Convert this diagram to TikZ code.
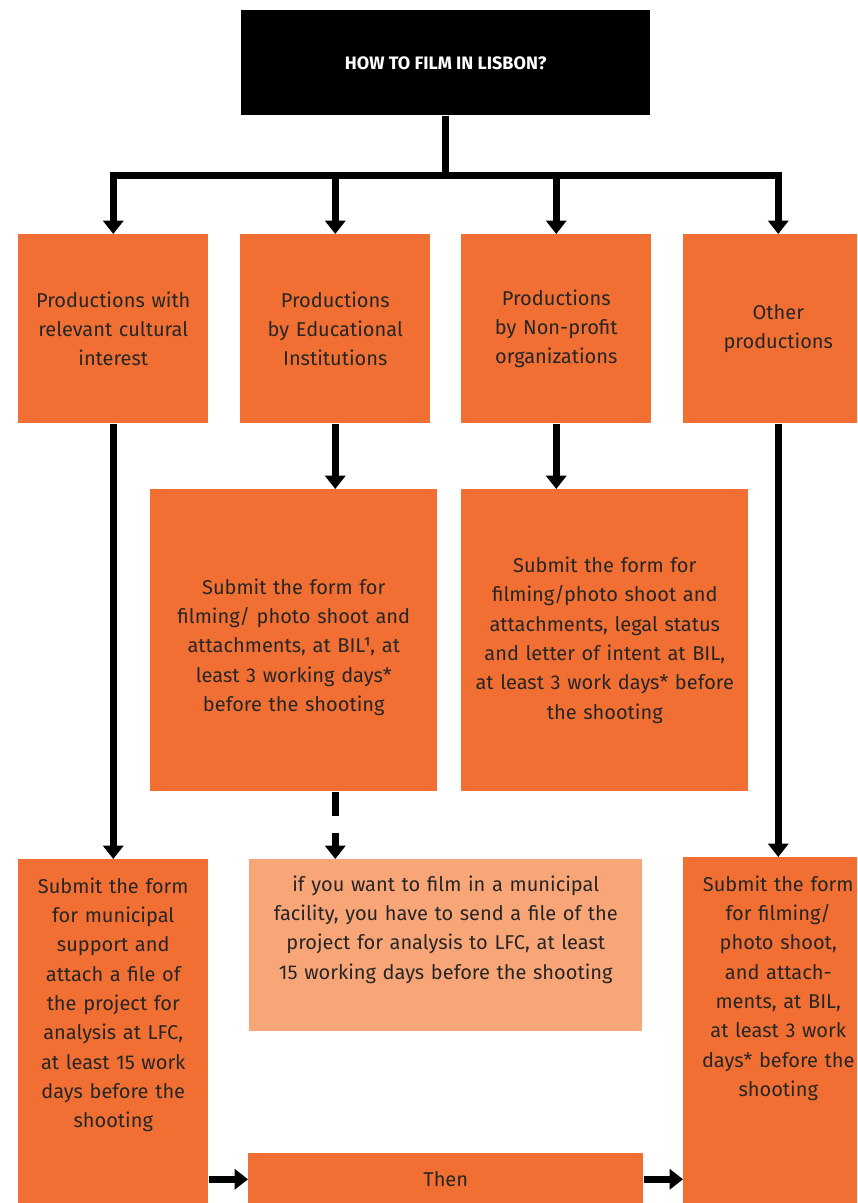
\documentclass[tikz,border=0pt]{standalone}
\usepackage{fontspec}
\setmainfont{Fira Sans}
\usetikzlibrary{arrows.meta}
\definecolor{lfcorange}{HTML}{F26F33}
\definecolor{lfclight}{HTML}{F8A678}

\begin{document}
\begin{tikzpicture}[x=0.75pt,y=-0.75pt,
    box/.style={fill=lfcorange,text=black!85,inner sep=0pt,align=center,
                font=\fontsize{15}{22}\selectfont,anchor=north west},
    topbox/.style={box,text width=142.5pt,text height=25.5pt},
    arr/.style={line width=5.25pt,-{Triangle[width=15pt,length=10pt]}}]
		\useasboundingbox (0,0) rectangle (857,1203);
		\clip (0,0) rectangle (857,1203);

		% question
		\node[fill=black,text=white,anchor=north west,minimum width=306.75pt,
		      minimum height=78.75pt,font=\fontsize{13.5}{16}\selectfont\bfseries]
		      (how) at (241,10) {HOW TO FILM IN LISBON?};

		% kinds of production
		\begin{scope}[every node/.style={box,text width=142.5pt,minimum height=141.75pt}]
		    \node (cult) at (18,234) {Productions with\\relevant cultural\\interest};
		    \node (edu) at (240,234) {Productions\\by Educational\\Institutions};
		    \node (npo) at (461,234) {Productions\\by Non-profit\\organizations};
		    \node (other) at (683,234) {Other\\productions};
		\end{scope}

		% forms
		\node[box,text width=215.25pt,text height=78.75pt,text depth=147.75pt]
		      (eduform) at (150,489) {Submit the form for\\filming/ photo shoot and\\attachments, at BIL¹, at\\least 3 working days*\\before the shooting};
		\node[box,text width=215.25pt,minimum height=226.5pt]
		      (npoform) at (461,489) {Submit the form for\\filming/photo shoot and\\attachments, legal status\\and letter of intent at BIL,\\at least 3 work days* before\\the shooting};

		\node[topbox,text depth=237.75pt] (lfc) at (18,859) {Submit the form\\for municipal\\support and\\attach a file of\\the project for\\analysis at LFC,\\at least 15 work\\days before the\\shooting};
		\node[box,fill=lfclight,text width=294.75pt,text height=24pt,text depth=105pt]
		      (muni) at (249,859) {if you want to film in a municipal\\facility, you have to send a file of the\\project for analysis to LFC, at least\\15 working days before the shooting};
		\node[topbox,text depth=239.25pt] (bil) at (683,857) {Submit the form\\for filming/\\photo shoot,\\and attach-\\ments, at BIL,\\at least 3 work\\days* before the\\shooting};
		\node[box,text width=296.25pt,minimum height=39pt] (then) at (248,1153) {Then};

		% connectors
		\coordinate (bus) at (445,175);
		\foreach \b in {cult,edu,npo,other}
		    \draw[arr] (how.south) |- (bus -| \b.north) -- (\b.north);
		\draw[arr] (edu.south) -- (edu.south |- eduform.north);
		\draw[arr] (npo.south) -- (npo.south |- npoform.north);
		\draw[arr] (cult.south) -- (cult.south |- lfc.north);
		\draw[arr] (other.south) -- (other.south |- bil.north);
		\draw[arr,dash pattern=on 18pt off 12.75pt] (edu.south |- eduform.south) -- (edu.south |- muni.north);
		\draw[arr] (then.west -| lfc.east) -- (then.west);
		\draw[arr] (then.east) -- (then.east -| bil.west);
\end{tikzpicture}
\end{document}
